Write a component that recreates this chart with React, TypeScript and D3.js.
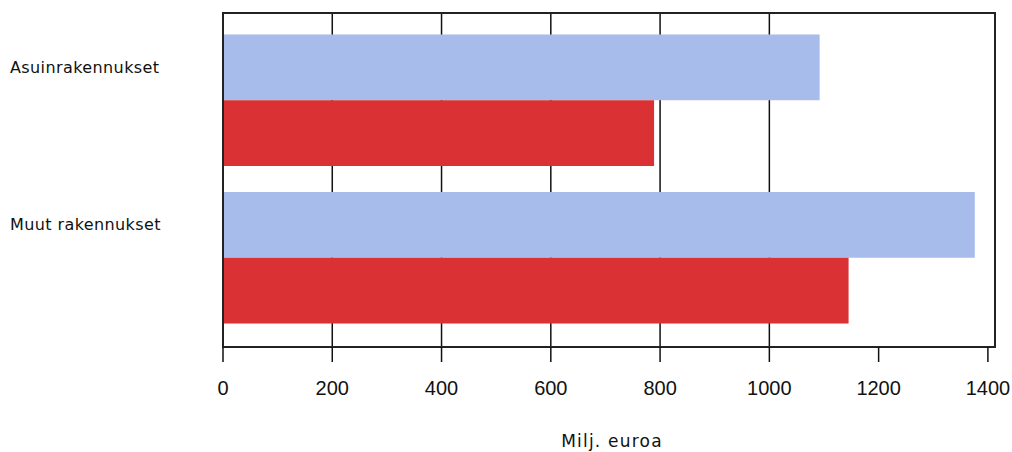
import { useEffect, useRef } from 'react'
import * as d3 from 'd3'

// categories and values (milj. euroa)
const categories = ['Asuinrakennukset', 'Muut rakennukset']
const seriesKeys = ['s1', 's2']
const s1Values = [1092, 1376]
const s2Values = [789, 1145]
const xTicks = [0, 200, 400, 600, 800, 1000, 1200, 1400]
const gridTicks = [200, 400, 600, 800, 1000]
const axisTitle = 'Milj. euroa'

const colors: Record<string, string> = { s1: '#a7bcea', s2: '#da3234' }

export default function App(): JSX.Element {
  const ref = useRef<SVGSVGElement>(null)

  useEffect(() => {
    const node = ref.current
    if (!node) return
    const width = 1012, height = 452
    const left = 223, right = 995, top = 13, bottom = 347

    const svg = d3.select(node)
    svg.selectAll('*').remove()

    const x = d3.scaleLinear().domain([0, 1413]).range([left, right])
    const y0 = d3.scaleBand<string>().domain(categories).range([top + 1, bottom - 3])
      .paddingInner(0.165).paddingOuter(0.13)
    const y1 = d3.scaleBand<string>().domain(seriesKeys).range([0, y0.bandwidth()])

    const rows = categories.map((c, i) => ({ cat: c, s1: s1Values[i], s2: s2Values[i] }))

    // gridlines
    svg.append('g').selectAll('line').data(gridTicks).join('line')
      .attr('x1', d => x(d)).attr('x2', d => x(d))
      .attr('y1', top).attr('y2', bottom)
      .attr('stroke', '#111').attr('stroke-width', 1.5)

    // bars
    const groups = svg.append('g').selectAll('g').data(rows).join('g')
      .attr('transform', d => `translate(0,${y0(d.cat)})`)
    groups.selectAll('rect')
      .data(d => seriesKeys.map(k => ({ key: k, value: (d as any)[k] as number })))
      .join('rect')
      .attr('x', x(0))
      .attr('y', d => y1(d.key)!)
      .attr('width', d => x(d.value) - x(0))
      .attr('height', y1.bandwidth())
      .attr('fill', d => colors[d.key])

    // frame
    svg.append('rect')
      .attr('x', left).attr('y', top)
      .attr('width', right - left).attr('height', bottom - top)
      .attr('fill', 'none').attr('stroke', '#222').attr('stroke-width', 2)

    // x axis ticks
    const ax = svg.append('g')
    ax.selectAll('line').data(xTicks).join('line')
      .attr('x1', d => x(d)).attr('x2', d => x(d))
      .attr('y1', bottom).attr('y2', bottom + 15)
      .attr('stroke', '#111').attr('stroke-width', 1.5)
    ax.selectAll('text').data(xTicks).join('text')
      .attr('x', d => x(d)).attr('y', bottom + 48)
      .attr('text-anchor', 'middle')
      .attr('font-family', '"Liberation Sans", Arial, sans-serif')
      .attr('font-size', 20)
      .attr('fill', '#111')
      .text(d => String(d))

    // category labels, aligned with the first bar of each group
    svg.append('g').selectAll('text').data(categories).join('text')
      .attr('x', 10)
      .attr('y', d => y0(d)! + y1('s1')! + y1.bandwidth() / 2)
      .attr('dy', '0.35em')
      .attr('font-family', '"DejaVu Sans", Verdana, sans-serif')
      .attr('font-size', 16)
      .attr('letter-spacing', 0.4)
      .attr('fill', '#111')
      .text(d => d)

    svg.append('text')
      .attr('x', 612).attr('y', 447)
      .attr('text-anchor', 'middle')
      .attr('font-family', '"DejaVu Sans", Verdana, sans-serif')
      .attr('font-size', 17)
      .attr('letter-spacing', 1.2)
      .attr('fill', '#111')
      .text(axisTitle)

    svg.attr('width', width).attr('height', height)
  }, [])

  return (
    <svg ref={ref} width={1012} height={452}
      style={{ position: 'absolute', left: 0, top: 0, background: '#fff' }} />
  )
}
